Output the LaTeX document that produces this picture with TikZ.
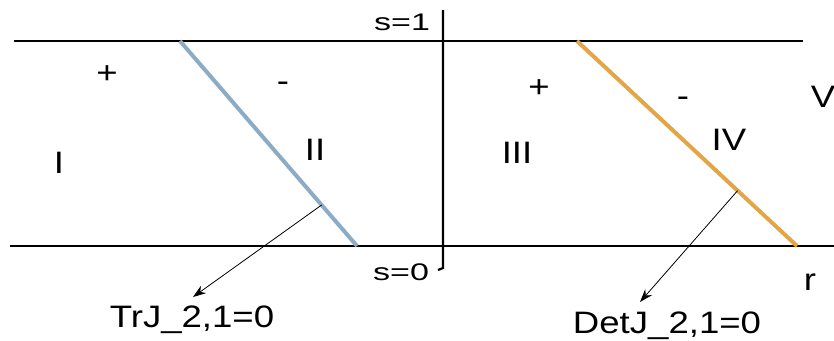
\documentclass[tikz,border=0pt]{standalone}
\usepackage{graphicx}
\usepackage{fontspec}
\setmainfont{Liberation Sans}
\usetikzlibrary{arrows.meta, calc}
\definecolor{trblue}{RGB}{140,172,198}
\definecolor{detorange}{RGB}{224,166,72}
\newcommand{\wide}[1]{\scalebox{1.18}[1]{#1}}
\newcommand{\wider}[1]{\scalebox{1.42}[1]{#1}}

\begin{document}
\begin{tikzpicture}[x=1pt,y=-1pt,
    roman/.style={anchor=base, inner sep=0pt, font=\fontsize{31}{33}\selectfont},
    axlbl/.style={anchor=base, inner sep=0pt, font=\fontsize{24}{26}\selectfont},
    eqlbl/.style={anchor=base, inner sep=0pt, font=\fontsize{31}{33}\selectfont},
    pointer/.style={line width=0.8pt, -{Stealth[length=13pt,width=9pt]}}]
    \useasboundingbox (0,0) rectangle (834,340);
    % strip 0 <= s <= 1
    \draw[line width=2.2pt] (14,41) -- (803,41);
    \draw[line width=2.2pt] (10,246) -- (834,246);
    \draw[line width=2.2pt] (443,10) -- (443,268) -- (438,270);
    % the two curves
    \coordinate (tra) at (180,41);
    \coordinate (trb) at (357,246);
    \coordinate (deta) at (577,41);
    \coordinate (detb) at (797,246);
    \draw[trblue, line width=4pt] (tra) -- (trb);
    \draw[detorange, line width=4pt] (deta) -- (detb);
    \coordinate (trpt) at ($(tra)!0.8!(trb)$);
    \coordinate (detpt) at ($(deta)!0.73!(detb)$);
    % labels
    \node[axlbl] (s1) at (402,30) {\wider{s=1}};
    \node[axlbl] (s0) at (401,280) {\wider{s=0}};
    \node[roman] (r) at (810,290) {\wide{r}};
    \node[roman] (p1) at (107,83) {\wide{+}};
    \node[roman] (m1) at (283,91) {\wide{-}};
    \node[roman] (p2) at (539,97) {\wide{+}};
    \node[roman] (m2) at (683,106) {\wide{-}};
    \node[roman] (reg1) at (59,173) {\wide{I}};
    \node[roman] (reg2) at (315,160) {\wide{II}};
    \node[roman] (reg3) at (517,163) {\wide{III}};
    \node[roman] (reg4) at (729,150) {\wide{IV}};
    \node[roman] (reg5) at (823,107) {\wide{V}};
    \node[eqlbl] (trlbl) at (192,327) {\wide{TrJ\_2,1=0}};
    \node[eqlbl] (detlbl) at (667,333) {\wide{DetJ\_2,1=0}};
    \coordinate (trtip) at (193,297);
    \coordinate (dettip) at (640,302);
    \draw[pointer] (trpt) -- (trtip);
    \draw[pointer] (detpt) -- (dettip);
\end{tikzpicture}
\end{document}
